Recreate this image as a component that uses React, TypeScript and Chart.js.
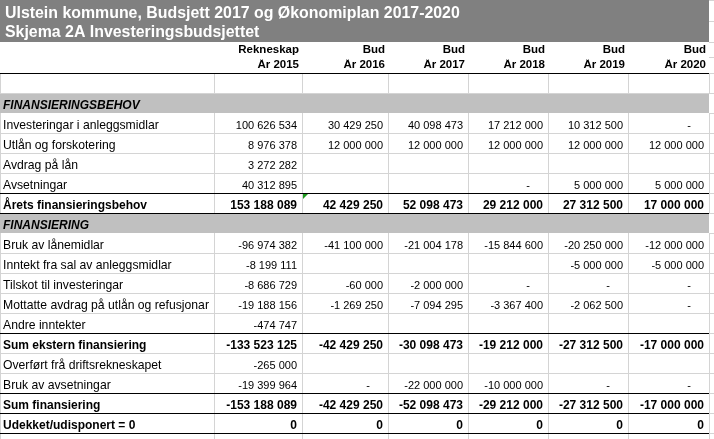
import React, { useEffect, useRef } from "react";
import { Chart, registerables } from "chart.js";

Chart.register(...registerables);

// ---------- text & data ----------
const titleLines = [
  "Ulstein kommune, Budsjett 2017 og Økonomiplan 2017-2020",
  "Skjema 2A Investeringsbudsjettet",
];
const headerTop = ["Rekneskap", "Bud", "Bud", "Bud", "Bud", "Bud"];
const headerBottom = ["År 2015", "År 2016", "År 2017", "År 2018", "År 2019", "År 2020"];

const sectionNeed = "FINANSIERINGSBEHOV";
const sectionFinancing = "FINANSIERING";

const investeringar = [100626534, 30429250, 40098473, 17212000, 10312500, 0];
const utlan = [8976378, 12000000, 12000000, 12000000, 12000000, 12000000];
const avdrag = [3272282, null, null, null, null, null];
const avsetningar = [40312895, null, null, 0, 5000000, 5000000];
const aretsBehov = [153188089, 42429250, 52098473, 29212000, 27312500, 17000000];

const brukLanemidlar = [-96974382, -41100000, -21004178, -15844600, -20250000, -12000000];
const inntektSal = [-8199111, null, null, null, -5000000, -5000000];
const tilskot = [-8686729, -60000, -2000000, 0, 0, 0];
const mottatteAvdrag = [-19188156, -1269250, -7094295, -3367400, -2062500, 0];
const andreInntekter = [-474747, null, null, null, null, null];
const sumEkstern = [-133523125, -42429250, -30098473, -19212000, -27312500, -17000000];
const overfortDrift = [-265000, null, null, null, null, null];
const brukAvsetningar = [-19399964, 0, -22000000, -10000000, 0, 0];
const sumFinansiering = [-153188089, -42429250, -52098473, -29212000, -27312500, -17000000];
const udekket = [0, 0, 0, 0, 0, 0];

type Row = {
  kind: "blank" | "section" | "item" | "total";
  label?: string;
  values?: (number | null)[];
  lineTop?: boolean;
  lineBottom?: boolean;
  plainZero?: boolean;
  marker?: number;
};

const rows: Row[] = [
  { kind: "blank" },
  { kind: "section", label: sectionNeed },
  { kind: "item", label: "Investeringar i anleggsmidlar", values: investeringar },
  { kind: "item", label: "Utlån og forskotering", values: utlan },
  { kind: "item", label: "Avdrag på lån", values: avdrag },
  { kind: "item", label: "Avsetningar", values: avsetningar },
  { kind: "total", label: "Årets finansieringsbehov", values: aretsBehov, lineTop: true, lineBottom: true, marker: 1 },
  { kind: "section", label: sectionFinancing },
  { kind: "item", label: "Bruk av lånemidlar", values: brukLanemidlar },
  { kind: "item", label: "Inntekt fra sal av anleggsmidlar", values: inntektSal },
  { kind: "item", label: "Tilskot til investeringar", values: tilskot },
  { kind: "item", label: "Mottatte avdrag på utlån og refusjonar", values: mottatteAvdrag },
  { kind: "item", label: "Andre inntekter", values: andreInntekter },
  { kind: "total", label: "Sum ekstern finansiering", values: sumEkstern, lineTop: true },
  { kind: "item", label: "Overført frå driftsrekneskapet", values: overfortDrift },
  { kind: "item", label: "Bruk av avsetningar", values: brukAvsetningar },
  { kind: "total", label: "Sum finansiering", values: sumFinansiering, lineTop: true, lineBottom: true },
  { kind: "total", label: "Udekket/udisponert = 0", values: udekket, lineBottom: true, plainZero: true },
  { kind: "blank" },
];

// ---------- layout (sheet units = px) ----------
const W = 714;
const H = 439;
const colEdges = [0, 214, 302, 388, 468, 548, 628, 709];
const titleBottom = 42;
const headerBottomY = 73;
const rowH = 20;
const FONT = "'Liberation Sans', Arial, sans-serif";

function fmt(v: number): string {
  const s = Math.abs(v).toString().replace(/\B(?=(\d{3})+(?!\d))/g, " ");
  return (v < 0 ? "-" : "") + s;
}

const tablePlugin = {
  id: "sheetTable",
  afterDraw(chart: any) {
    const ctx: CanvasRenderingContext2D = chart.ctx;
    const xs = chart.scales.x;
    const ys = chart.scales.y;
    const X = (v: number) => Math.round(xs.getPixelForValue(v));
    const Y = (v: number) => Math.round(ys.getPixelForValue(v));
    const right = colEdges[colEdges.length - 1];

    ctx.save();
    ctx.fillStyle = "#ffffff";
    ctx.fillRect(0, 0, chart.width, chart.height);

    const hline = (x0: number, x1: number, y: number, color: string) => {
      ctx.fillStyle = color;
      ctx.fillRect(X(x0), Y(y), X(x1) - X(x0), 1);
    };
    const vline = (x: number, y0: number, y1: number, color: string) => {
      ctx.fillStyle = color;
      ctx.fillRect(X(x), Y(y0), 1, Y(y1) - Y(y0));
    };
    const grid = "#d4d4d4";

    // right strip gridlines (outside the table)
    const stripYs = [0, 21, titleBottom, 57, headerBottomY];
    rows.forEach((_, i) => stripYs.push(headerBottomY + (i + 1) * rowH));
    stripYs.forEach((y) => hline(right, W, y, grid));

    // title bar
    ctx.fillStyle = "#808080";
    ctx.fillRect(X(0), Y(0), X(right) - X(0), Y(titleBottom) - Y(0));
    ctx.fillStyle = "#ffffff";
    ctx.font = `bold 15.9px ${FONT}`;
    ctx.textAlign = "left";
    ctx.textBaseline = "alphabetic";
    ctx.fillText(titleLines[0], X(5), Y(18));
    ctx.fillText(titleLines[1], X(5), Y(37));

    // header
    ctx.fillStyle = "#000000";
    ctx.font = `bold 11.5px ${FONT}`;
    ctx.textAlign = "right";
    for (let c = 0; c < headerTop.length; c++) {
      const xr = colEdges[c + 2] - 3;
      ctx.fillText(headerTop[c], X(xr), Y(53));
      ctx.save();
      ctx.beginPath();
      const clipTop = ys.getPixelForValue(59.6);
      ctx.rect(X(colEdges[c + 1]), clipTop, X(colEdges[c + 2]) - X(colEdges[c + 1]), Y(headerBottomY) - clipTop);
      ctx.clip();
      ctx.fillText(headerBottom[c], X(xr), Y(67.5));
      ctx.restore();
    }

    // body
    const blacks: number[] = [headerBottomY];
    rows.forEach((row, i) => {
      const top = headerBottomY + i * rowH;
      const bot = top + rowH;
      if (row.kind === "section") {
        ctx.fillStyle = "#c0c0c0";
        ctx.fillRect(X(0), Y(top + 1), X(right) - X(0), Y(bot) - Y(top + 1));
        ctx.fillStyle = "#000000";
        ctx.font = `italic bold 12px ${FONT}`;
        ctx.textAlign = "left";
        ctx.fillText(row.label || "", X(2.5), Y(bot - 4));
        return;
      }
      // gridlines
      hline(0, right, bot, grid);
      colEdges.forEach((cx) => vline(cx, top, bot + 1, grid));
      if (row.lineTop) blacks.push(top);
      if (row.lineBottom) blacks.push(bot);

      const bold = row.kind === "total";
      if (row.label) {
        ctx.fillStyle = "#000000";
        ctx.font = bold ? `bold 12px ${FONT}` : `12.2px ${FONT}`;
        ctx.textAlign = "left";
        ctx.fillText(row.label, X(2.5), Y(bot - 4.5));
      }
      if (row.values) {
        ctx.fillStyle = "#000000";
        ctx.font = bold ? `bold 12px ${FONT}` : `11px ${FONT}`;
        ctx.textAlign = "right";
        row.values.forEach((v, c) => {
          if (v === null || v === undefined) return;
          const edge = colEdges[c + 2];
          if (v === 0 && !row.plainZero) {
            ctx.fillText("-", X(edge - 18), Y(bot - 4.5));
          } else {
            ctx.fillText(fmt(v), X(edge - 5.5), Y(bot - 4.5));
          }
        });
      }
      if (row.marker !== undefined) {
        const mx = colEdges[row.marker + 1] + 1;
        ctx.fillStyle = "#1e9a1e";
        ctx.beginPath();
        ctx.moveTo(X(mx), Y(top + 1));
        ctx.lineTo(X(mx + 5), Y(top + 1));
        ctx.lineTo(X(mx), Y(top + 6));
        ctx.closePath();
        ctx.fill();
      }
    });

    blacks.forEach((y) => hline(0, right, y, "#000000"));
    ctx.restore();
  },
};

export default function App() {
  const ref = useRef<HTMLCanvasElement | null>(null);
  useEffect(() => {
    if (!ref.current) return;
    const chart = new Chart(ref.current, {
      type: "scatter",
      data: { datasets: [{ data: [] }] },
      options: {
        animation: false,
        responsive: false,
        devicePixelRatio: 1,
        layout: { padding: 0 },
        plugins: { legend: { display: false }, tooltip: { enabled: false }, title: { display: false } },
        scales: {
          x: { type: "linear", min: 0, max: W, display: false },
          y: { type: "linear", min: 0, max: H, reverse: true, display: false },
        },
      },
      plugins: [tablePlugin],
    });
    return () => chart.destroy();
  }, []);
  return (
    <div style={{ position: "fixed", left: 0, top: 0, width: W, height: H, background: "#fff" }}>
      <canvas ref={ref} width={W} height={H} style={{ width: W, height: H, display: "block" }} />
    </div>
  );
}
